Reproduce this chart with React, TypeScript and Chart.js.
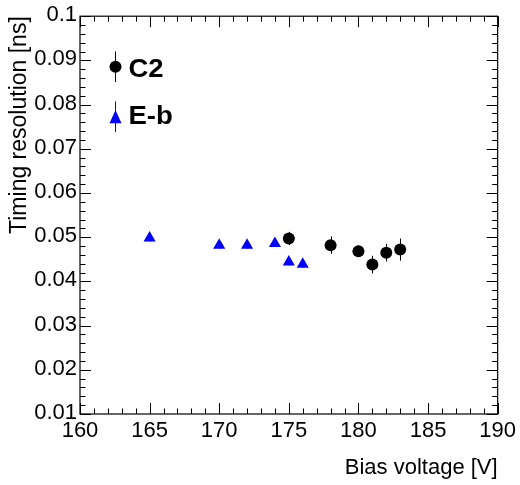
import React, { useEffect, useRef } from "react";
import { Chart, registerables } from "chart.js";

Chart.register(...registerables);

// ---- data ----
const c2Voltage = [175, 178, 180, 181, 182, 183];
const c2Resolution = [0.0497, 0.0482, 0.0468, 0.0438, 0.0465, 0.0472];
const c2Error = [0.0015, 0.002, 0.0013, 0.002, 0.002, 0.0025];

const ebVoltage = [165, 170, 172, 174, 175, 176];
const ebResolution = [0.0498, 0.0482, 0.0482, 0.0486, 0.0444, 0.0439];
const ebError = [0.0008, 0.0008, 0.0008, 0.0008, 0.0008, 0.0008];

const xTickValues = [160, 165, 170, 175, 180, 185, 190];
const yTickValues = [0.01, 0.02, 0.03, 0.04, 0.05, 0.06, 0.07, 0.08, 0.09, 0.1];
const xMinorStep = 1;
const yMinorStep = 0.002;

const seriesLabels = ["C2", "E-b"];
const xTitle = "Bias voltage [V]";
const yTitle = "Timing resolution [ns]";

const FONT = "'Liberation Sans', Arial, Helvetica, sans-serif";

const errorBarPlugin = {
  id: "errorBars",
  beforeDatasetsDraw(chart: any) {
    const { ctx, scales } = chart;
    const xs = scales.x;
    const ys = scales.y;
    chart.data.datasets.forEach((ds: any) => {
      const errs: number[] = ds.errorBars || [];
      ctx.save();
      ctx.strokeStyle = ds.borderColor;
      ctx.lineWidth = 1;
      ds.data.forEach((p: any, i: number) => {
        const e = errs[i] || 0;
        const px = Math.round(xs.getPixelForValue(p.x)) + 0.5;
        ctx.beginPath();
        ctx.moveTo(px, ys.getPixelForValue(p.y - e));
        ctx.lineTo(px, ys.getPixelForValue(p.y + e));
        ctx.stroke();
      });
      ctx.restore();
    });
  },
};

const framePlugin = {
  id: "rootFrame",
  afterDatasetsDraw(chart: any) {
    const { ctx, chartArea, scales } = chart;
    const { left, right, top, bottom } = chartArea;
    const xs = scales.x;
    const ys = scales.y;
    const majorLen = 11;
    const minorLen = 5.5;
    ctx.save();
    ctx.strokeStyle = "#000";
    ctx.lineWidth = 1;
    ctx.beginPath();
    for (let v = xs.min; v <= xs.max + 1e-9; v += xMinorStep) {
      const isMajor = xTickValues.some((t) => Math.abs(t - v) < 1e-9);
      const len = isMajor ? majorLen : minorLen;
      const px = Math.round(xs.getPixelForValue(v)) + 0.5;
      ctx.moveTo(px, bottom);
      ctx.lineTo(px, bottom - len);
      ctx.moveTo(px, top);
      ctx.lineTo(px, top + len);
    }
    const n = Math.round((ys.max - ys.min) / yMinorStep);
    for (let k = 0; k <= n; k++) {
      const v = ys.min + k * yMinorStep;
      const isMajor = yTickValues.some((t) => Math.abs(t - v) < 1e-9);
      const len = isMajor ? majorLen : minorLen;
      const py = Math.round(ys.getPixelForValue(v)) + 0.5;
      ctx.moveTo(left, py);
      ctx.lineTo(left + len, py);
      ctx.moveTo(right, py);
      ctx.lineTo(right - len, py);
    }
    ctx.stroke();
    ctx.lineWidth = 1.2;
    ctx.strokeRect(left, top, right - left, bottom - top);
    ctx.restore();
  },
  afterDraw(chart: any) {
    const { ctx } = chart;
    const ds = chart.data.datasets;
    const entries = [
      { y: 66.7, style: "circle", color: ds[0].backgroundColor, label: seriesLabels[0], lt: 51.5, lb: 82, ty: 70 },
      { y: 117, style: "triangle", color: ds[1].backgroundColor, label: seriesLabels[1], lt: 101.5, lb: 132, ty: 117 },
    ];
    ctx.save();
    entries.forEach((e) => {
      const cx = 115.5;
      ctx.strokeStyle = e.color;
      ctx.fillStyle = e.color;
      ctx.lineWidth = 1;
      ctx.beginPath();
      ctx.moveTo(cx, e.lt);
      ctx.lineTo(cx, e.lb);
      ctx.stroke();
      ctx.beginPath();
      if (e.style === "circle") {
        ctx.arc(cx, e.y, 6, 0, Math.PI * 2);
      } else {
        ctx.moveTo(cx, e.y - 7);
        ctx.lineTo(cx + 6, e.y + 6.3);
        ctx.lineTo(cx - 6, e.y + 6.3);
        ctx.closePath();
      }
      ctx.fill();
      ctx.save();
      ctx.fillStyle = "#000";
      ctx.font = `bold 25px ${FONT}`;
      ctx.textBaseline = "middle";
      ctx.textAlign = "left";
      ctx.translate(128.5, e.ty);
      ctx.scale(1.1, 1);
      ctx.fillText(e.label, 0, 0);
      ctx.restore();
    });
    ctx.restore();
  },
};

export default function App() {
  const ref = useRef<HTMLCanvasElement>(null);

  useEffect(() => {
    if (!ref.current) return;
    Chart.defaults.font.family = FONT;
    Chart.defaults.color = "#000";
    const chart = new Chart(ref.current, {
      type: "scatter",
      data: {
        datasets: [
          {
            label: seriesLabels[0],
            data: c2Voltage.map((v, i) => ({ x: v, y: c2Resolution[i] })),
            pointStyle: "circle",
            pointRadius: 6,
            backgroundColor: "#000000",
            borderColor: "#000000",
            borderWidth: 0,
            errorBars: c2Error,
          } as any,
          {
            label: seriesLabels[1],
            data: ebVoltage.map((v, i) => ({ x: v, y: ebResolution[i] })),
            pointStyle: "triangle",
            pointRadius: 7,
            backgroundColor: "#0000ff",
            borderColor: "#0000ff",
            borderWidth: 0,
            errorBars: ebError,
          } as any,
        ],
      },
      options: {
        animation: false,
        responsive: false,
        layout: { padding: { top: 16, right: 22, left: 0, bottom: 0 } },
        plugins: {
          legend: { display: false },
          tooltip: { enabled: false },
        },
        scales: {
          x: {
            type: "linear",
            min: 160,
            max: 190,
            grid: { display: false, drawTicks: false },
            border: { display: false },
            afterBuildTicks: (axis: any) => {
              axis.ticks = xTickValues.map((v) => ({ value: v }));
            },
            afterFit: (axis: any) => {
              axis.height = 71;
            },
            ticks: {
              font: { size: 22 },
              padding: 4,
              maxRotation: 0,
              autoSkip: false,
              callback: (v: any) => String(v),
            },
            title: {
              display: true,
              text: xTitle,
              align: "end",
              font: { size: 22 },
              padding: { top: 0, bottom: 4 },
            },
          },
          y: {
            type: "linear",
            min: 0.01,
            max: 0.1,
            grid: { display: false, drawTicks: false },
            border: { display: false },
            afterBuildTicks: (axis: any) => {
              axis.ticks = yTickValues.map((v) => ({ value: v }));
            },
            afterFit: (axis: any) => {
              axis.width = 80;
            },
            ticks: {
              font: { size: 22 },
              padding: 3,
              labelOffset: -1,
              autoSkip: false,
              callback: (v: any) => String(parseFloat(Number(v).toFixed(3))),
            },
            title: {
              display: true,
              text: yTitle,
              align: "end",
              font: { size: 23 },
              padding: { top: 6, bottom: 0 },
            },
          },
        },
      } as any,
      plugins: [errorBarPlugin, framePlugin],
    });
    return () => chart.destroy();
  }, []);

  return (
    <div style={{ position: "fixed", left: 0, top: 0, width: 520, height: 485, background: "#fff" }}>
      <canvas ref={ref} width={520} height={485} />
    </div>
  );
}
